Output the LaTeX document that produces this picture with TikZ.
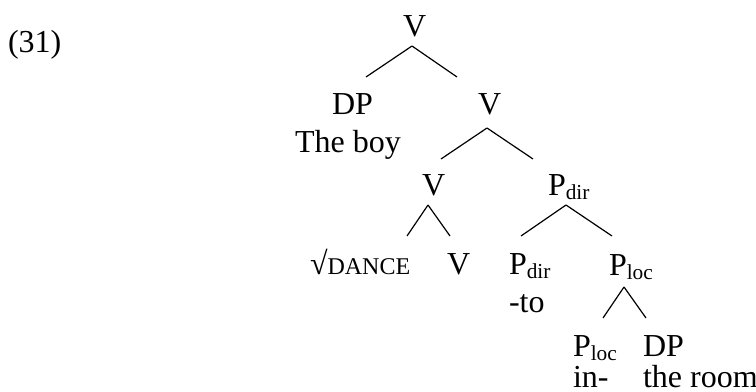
\documentclass[tikz,border=0pt]{standalone}
\usepackage{fontspec}
\setmainfont{Liberation Serif}
\usepackage{tikz}
\usetikzlibrary{positioning}
\newcommand{\lsub}[1]{\raisebox{-1.6pt}{\fontsize{8}{9}\selectfont #1}}
\newcommand{\fakesc}[1]{{\fontsize{9}{10}\selectfont #1}}
\tikzset{
  lab/.style={anchor=base west, inner sep=0pt, outer sep=0pt, font=\fontsize{12}{14}\selectfont},
  branch/.style={draw=black, line width=0.45pt}
}
\begin{document}
\begin{tikzpicture}[x=0.375pt, y=-0.375pt]
  \useasboundingbox (0,0) rectangle (756,392);

  \node[lab] (ex) at (8,53) {(31)};

  \node[lab] (v1) at (403,37) {V};
  \node[lab] (dp1) at (332,115) {DP};
  \node[lab] (boy) at (295,152) {The boy};
  \node[lab] (v2) at (478,115) {V};
  \node[lab] (v3) at (422,195) {V};
  \node[lab] (pdir1) at (548,195) {P\lsub{dir}};
  \node[lab] (dance) at (310,274) {√\fakesc{DANCE}};
  \node[lab] (v4) at (447,274) {V};
  \node[lab] (pdir2) at (509,274) {P\lsub{dir}};
  \node[lab] (to) at (509,312) {-to};
  \node[lab] (ploc1) at (609,275) {P\lsub{loc}};
  \node[lab] (ploc2) at (573,356) {P\lsub{loc}};
  \node[lab] (dp2) at (643,356) {DP};
  \node[lab] (in) at (573,387) {in-};
  \node[lab] (room) at (643,387) {the room};

  \coordinate (v1b) at (412,46);
  \coordinate (dp1t) at (366,77);
  \coordinate (v2t) at (457,77);
  \draw[branch] (v1b) -- (dp1t);
  \draw[branch] (v1b) -- (v2t);

  \coordinate (v2b) at (487,128);
  \coordinate (v3t) at (441,159);
  \coordinate (pdir1t) at (533,159);
  \draw[branch] (v2b) -- (v3t);
  \draw[branch] (v2b) -- (pdir1t);

  \coordinate (v3b) at (428,205);
  \coordinate (dancet) at (407,236);
  \coordinate (v4t) at (450,236);
  \draw[branch] (v3b) -- (dancet);
  \draw[branch] (v3b) -- (v4t);

  \coordinate (pdir1b) at (566,205);
  \coordinate (pdir2t) at (521,236);
  \coordinate (ploc1t) at (612,236);
  \draw[branch] (pdir1b) -- (pdir2t);
  \draw[branch] (pdir1b) -- (ploc1t);

  \coordinate (ploc1b) at (624,287);
  \coordinate (ploc2t) at (603,318);
  \coordinate (dp2t) at (646,318);
  \draw[branch] (ploc1b) -- (ploc2t);
  \draw[branch] (ploc1b) -- (dp2t);
\end{tikzpicture}
\end{document}
